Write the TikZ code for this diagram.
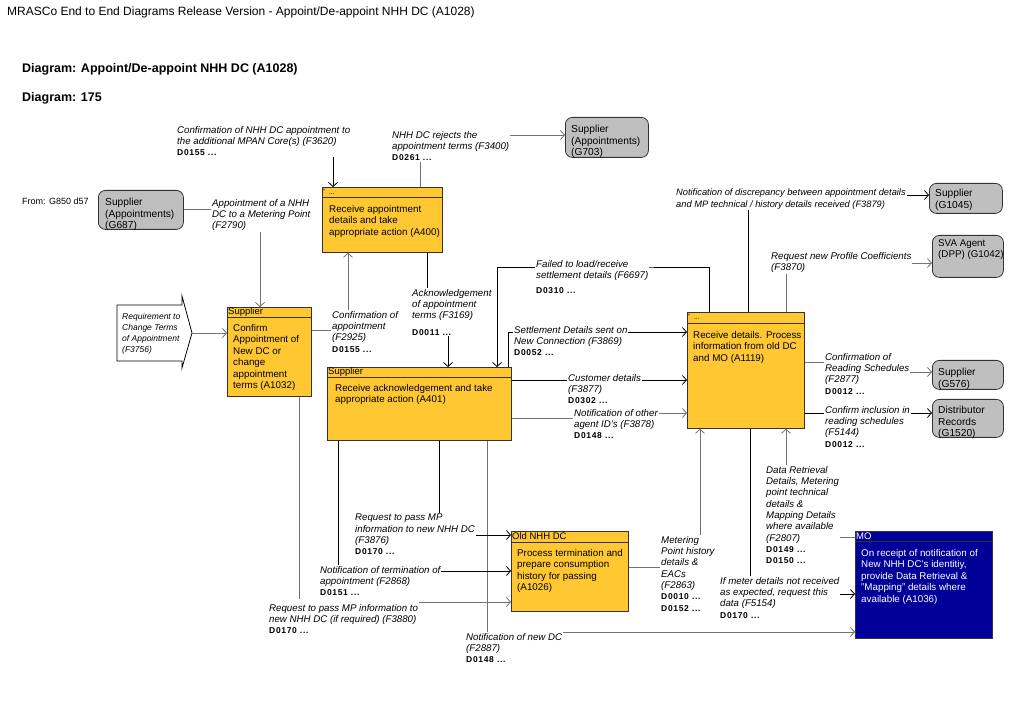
\documentclass[tikz,border=0pt]{standalone}
\usepackage{fontspec}
\setmainfont{Liberation Sans}
\newfontfamily\dfont[LetterSpace=8]{Liberation Sans}
\usetikzlibrary{arrows.meta}
\definecolor{procyellow}{RGB}{255,200,50}
\definecolor{moblue}{RGB}{0,0,153}
\newcommand{\dcode}[1]{{\dfont\upshape\bfseries\fontsize{8.5}{9.5}\selectfont #1}}
\tikzset{
    flow/.style     = {-{Straight Barb[length=4pt,width=9pt]}, line width=0.8pt, draw=black},
    flowg/.style    = {flow, draw=black!55},
    procbox/.style  = {rectangle, draw=black!80, line width=0.8pt, fill=procyellow, anchor=north west, inner sep=0pt},
    mobox/.style    = {procbox, fill=moblue},
    grpbox/.style   = {rectangle, draw=black!80, line width=0.8pt, fill=black!25, rounded corners=7pt, anchor=north west, inner sep=0pt},
    hdrline/.style  = {line width=0.8pt, draw=black!80},
    hdrtext/.style  = {anchor=west, inner sep=1pt, font=\fontsize{9.5}{10}\selectfont},
    bodytext/.style = {anchor=north west, inner sep=1pt, align=left, font=\fontsize{9.8}{11.5}\selectfont},
    grptext/.style  = {bodytext, font=\fontsize{10.2}{11.5}\selectfont},
    lbl/.style      = {anchor=north west, inner sep=1pt, fill=white, align=left, font=\fontsize{9.7}{11.3}\selectfont\itshape}
}

\begin{document}
\begin{tikzpicture}[x=1pt, y=-1pt]
    \fill[white] (0,0) rectangle (1023,708);
    \useasboundingbox (0,0) rectangle (1023,708);

    % Titles
    \node[anchor=west, inner sep=0pt, font=\fontsize{12}{14}\selectfont] (title) at (7,12) {MRASCo End to End Diagrams Release Version - Appoint/De-appoint NHH DC (A1028)};
    \node[anchor=west, inner sep=0pt, font=\bfseries\fontsize{12.5}{14}\selectfont] (diagname) at (22,69) {Diagram: Appoint/De-appoint NHH DC (A1028)};
    \node[anchor=west, inner sep=0pt, font=\bfseries\fontsize{12.5}{14}\selectfont] (diagnum) at (22,98) {Diagram: 175};
    \node[anchor=west, inner sep=0pt, font=\fontsize{9}{11}\selectfont] (from) at (22,201) {From: G850 d57};

    % External groups
    \node[grpbox, minimum width=85pt, minimum height=39pt] (g687) at (98,190) {};
    \node[grptext] (g687t) at (104,197) {Supplier\\(Appointments)\\(G687)};
    \node[grpbox, minimum width=83pt, minimum height=40pt] (g703) at (565,117) {};
    \node[grptext] (g703t) at (570,124) {Supplier\\(Appointments)\\(G703)};
    \node[grpbox, minimum width=73pt, minimum height=30pt] (g1045) at (929,183) {};
    \node[grptext] (g1045t) at (934,188) {Supplier\\(G1045)};
    \node[grpbox, minimum width=71pt, minimum height=42pt] (g1042) at (932,235) {};
    \node[bodytext] (g1042t) at (937,238) {SVA Agent\\(DPP) (G1042)};
    \node[grpbox, minimum width=71pt, minimum height=29pt] (g576) at (932,360) {};
    \node[grptext] (g576t) at (937,367) {Supplier\\(G576)};
    \node[grpbox, minimum width=71pt, minimum height=38pt] (g1520) at (932,399) {};
    \node[grptext] (g1520t) at (937,405) {Distributor\\Records\\(G1520)};

    % Requirement input
    \draw[line width=0.8pt, fill=white] (117,305) -- (182,305) -- (182,296) -- (192,333) -- (182,368) -- (182,361) -- (117,361) -- cycle;
    \coordinate (reqtip) at (192,333);
    \node[bodytext, font=\fontsize{8.5}{11}\selectfont\itshape] (req) at (121,312) {Requirement to\\Change Terms\\of Appointment\\(F3756)};

    % Activities
    \node[procbox, minimum width=120pt, minimum height=65pt] (a400) at (322,187) {};
    \draw[hdrline] ([yshift=-10pt]a400.north west) -- ([yshift=-10pt]a400.north east);
    \node[hdrtext, font=\fontsize{7}{7}\selectfont] (a400h) at ([yshift=-5pt]a400.north west) {\raisebox{1.5pt}{\fontsize{5}{5}\selectfont*}\ \ ...};
    \node[bodytext] (a400t) at (328,204) {Receive appointment\\details and take\\appropriate action (A400)};

    \node[procbox, minimum width=84pt, minimum height=89pt] (a1032) at (227,307) {};
    \draw[hdrline] ([yshift=-10pt]a1032.north west) -- ([yshift=-10pt]a1032.north east);
    \node[hdrtext] (a1032h) at ([yshift=-5pt]a1032.north west) {Supplier};
    \node[bodytext] (a1032t) at (232,323) {Confirm\\Appointment of\\New DC or\\change\\appointment\\terms (A1032)};

    \node[procbox, minimum width=184pt, minimum height=73pt] (a401) at (327,367) {};
    \draw[hdrline] ([yshift=-10pt]a401.north west) -- ([yshift=-10pt]a401.north east);
    \node[hdrtext] (a401h) at ([yshift=-5pt]a401.north west) {Supplier};
    \node[bodytext] (a401t) at (334,383) {Receive acknowledgement and take\\appropriate action (A401)};

    \node[procbox, minimum width=117pt, minimum height=116pt] (a1119) at (687,312) {};
    \draw[hdrline] ([yshift=-11pt]a1119.north west) -- ([yshift=-11pt]a1119.north east);
    \node[hdrtext, font=\fontsize{7}{7}\selectfont] (a1119h) at ([yshift=-5pt]a1119.north west) {\raisebox{1.5pt}{\fontsize{5}{5}\selectfont*}\ \ ...};
    \node[bodytext] (a1119t) at (692,330) {Receive details. Process\\information from old DC\\and MO (A1119)};

    \node[procbox, minimum width=117pt, minimum height=80pt] (a1026) at (511,531) {};
    \draw[hdrline] ([yshift=-11pt]a1026.north west) -- ([yshift=-11pt]a1026.north east);
    \node[hdrtext] (a1026h) at ([yshift=-5.5pt]a1026.north west) {Old NHH DC};
    \node[bodytext] (a1026t) at (516,548) {Process termination and\\prepare consumption\\history for passing\\(A1026)};

    \node[mobox, minimum width=137pt, minimum height=107pt] (mo) at (855,531) {};
    \draw[hdrline] ([yshift=-10pt]mo.north west) -- ([yshift=-10pt]mo.north east);
    \node[hdrtext, text=white] (moh) at ([yshift=-5pt]mo.north west) {MO};
    \node[bodytext, text=white] (mot) at (860,548) {On receipt of notification of\\New NHH DC's identitiy,\\provide Data Retrieval \&\\"Mapping" details where\\available (A1036)};

    % Flows
    \coordinate (in3620) at (333,150);
    \coordinate (k3169) at (437,312);
    \coordinate (k6697) at (600,267);
    \coordinate (k3878) at (600,418);
    \coordinate (k2877) at (870,362);
    \draw[flowg] (g687.east) -| ([xshift=33pt]a1032.north west);
    \draw[flowg] (reqtip) -- ([yshift=-26pt]a1032.north west);
    \draw[flowg] ([yshift=-23pt]a1032.north east) -| ([xshift=26pt]a400.south west);
    \draw[flow] (in3620) -- (in3620 |- a400.north);
    \draw[flowg] ([xshift=98pt]a400.north west) |- ([yshift=-18pt]g703.north west);
    \draw[flow] ([xshift=105pt]a400.south west) |- (k3169) -| ([xshift=121pt]a401.north west);
    \draw[flow] ([xshift=22pt]a1119.north west) |- (k6697) -| ([xshift=170pt]a401.north west);
    \draw[flow] ([xshift=181pt]a401.north west) |- ([yshift=-20pt]a1119.north west);
    \draw[flow] ([yshift=-13pt]a401.north east) -- ([yshift=-68pt]a1119.north west);
    \draw[flowg] ([yshift=-51pt]a401.north east) -- (k3878) |- ([yshift=-101pt]a1119.north west);
    \draw[flow] ([xshift=61pt]a1119.north west) |- ([yshift=-12pt]g1045.north west);
    \draw[flowg] ([xshift=99pt]a1119.north west) |- ([yshift=-28pt]g1042.north west);
    \draw[flowg] ([yshift=-50pt]a1119.north east) -- (k2877) |- ([yshift=-12pt]g576.north west);
    \draw[flow] ([yshift=-101pt]a1119.north east) -- ([yshift=-14pt]g1520.north west);
    \draw[flowg] ([yshift=-36pt]a1026.north east) -| ([xshift=13pt]a1119.south west);
    \draw[flow] ([xshift=63pt]a1119.south west) |- ([yshift=-63pt]mo.north west);
    \draw[flowg] ([yshift=-6pt]mo.north west) -| ([xshift=99pt]a1119.south west);
    \draw[flowg] ([xshift=160pt]a401.south west) |- ([yshift=-101pt]mo.north west);
    \draw[flow] ([xshift=112pt]a401.south west) |- ([yshift=-4pt]a1026.north west);
    \draw[flow] ([xshift=11pt]a401.south west) |- ([yshift=-40pt]a1026.north west);
    \draw[flowg] ([xshift=72pt]a1032.south west) |- ([yshift=-71pt]a1026.north west);

    % Flow labels
    \node[lbl] (l3620) at (176,125) {Confirmation of NHH DC appointment to\\the additional MPAN Core(s) (F3620)\\\dcode{D0155 ...}};
    \node[lbl] (l3400) at (391,130) {NHH DC rejects the\\appointment terms (F3400)\\\dcode{D0261 ...}};
    \node[lbl] (l2790) at (211,198) {Appointment of a NHH\\DC to a Metering Point\\(F2790)};
    \node[lbl] (l2925) at (331,310) {Confirmation of\\appointment\\(F2925)\\\dcode{D0155 ...}};
    \node[lbl] (l3169) at (411,288) {Acknowledgement\\of appointment\\terms (F3169)\\[5pt]\dcode{D0011 ...}};
    \node[lbl] (l6697) at (535,259) {Failed to load/receive\\settlement details (F6697)\\[4pt]\dcode{D0310 ...}};
    \node[lbl] (l3869) at (513,325) {Settlement Details sent on\\New Connection (F3869)\\\dcode{D0052 ...}};
    \node[lbl] (l3877) at (567,373) {Customer details\\(F3877)\\\dcode{D0302 ...}};
    \node[lbl] (l3878) at (573,408) {Notification of other\\agent ID's (F3878)\\\dcode{D0148 ...}};
    \node[lbl, font=\fontsize{9.3}{11.5}\selectfont\itshape] (l3879) at (675,188) {Notification of discrepancy between appointment details\\and MP technical / history details received (F3879)};
    \node[lbl] (l3870) at (770,251) {Request new Profile Coefficients\\(F3870)};
    \node[lbl] (l2877) at (824,352) {Confirmation of\\Reading Schedules\\(F2877)\\\dcode{D0012 ...}};
    \node[lbl] (l5144) at (824,405) {Confirm inclusion in\\reading schedules\\(F5144)\\\dcode{D0012 ...}};
    \node[lbl] (l2807) at (765,465) {Data Retrieval\\Details, Metering\\point technical\\details \&\\Mapping Details\\where available\\(F2807)\\\dcode{D0149 ...}\\\dcode{D0150 ...}};
    \node[lbl] (l2863) at (660,535) {Metering\\Point history\\details \&\\EACs\\(F2863)\\\dcode{D0010 ...}\\\dcode{D0152 ...}};
    \node[lbl] (l5154) at (719,576) {If meter details not received\\as expected, request this\\data (F5154)\\\dcode{D0170 ...}};
    \node[lbl] (l3876) at (354,513) {Request to pass MP\\information to new NHH DC\\(F3876)\\\dcode{D0170 ...}};
    \node[lbl] (l2868) at (319,565) {Notification of termination of\\appointment (F2868)\\\dcode{D0151 ...}};
    \node[lbl, inner ysep=5pt] (l3880) at (268,599) {Request to pass MP information to\\new NHH DC (if required) (F3880)\\\dcode{D0170 ...}};
    \node[lbl] (l2887) at (465,632) {Notification of new DC\\(F2887)\\\dcode{D0148 ...}};

\end{tikzpicture}
\end{document}
